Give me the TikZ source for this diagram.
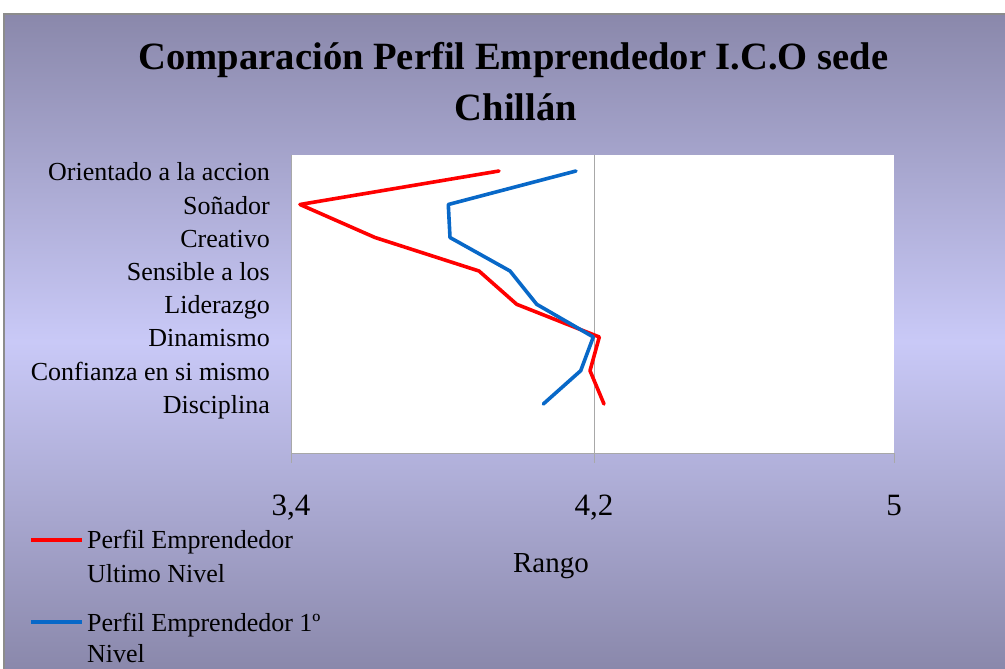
\documentclass[tikz,border=0pt]{standalone}
\usepackage{fontspec}
\setmainfont{Liberation Serif}
\definecolor{bgedge}{HTML}{8A88AB}
\definecolor{bgmid}{HTML}{C9C9F7}
\definecolor{framegray}{HTML}{8C8C8C}
\definecolor{axisgray}{HTML}{A8A8A8}
\definecolor{serieRed}{HTML}{FF0000}
\definecolor{serieBlue}{HTML}{0868C8}
\begin{document}
\begin{tikzpicture}[x=1pt,y=-1pt,
  titlefont/.style={font=\fontsize{38.6}{46}\selectfont\bfseries},
  catlabel/.style={anchor=base east,inner sep=0pt,font=\fontsize{26}{30}\selectfont},
  ticklabel/.style={anchor=base,inner sep=0pt,font=\fontsize{31}{36}\selectfont},
  legtext/.style={anchor=base west,inner sep=0pt,font=\fontsize{26}{30}\selectfont},
  axisline/.style={draw=axisgray,line width=1pt},
  series/.style={line width=3.6pt,line join=round,line cap=round}]
\useasboundingbox (0,0) rectangle (1005,669);
\fill[white] (0,0) rectangle (1005,669);
\shade[top color=bgedge,bottom color=bgedge,middle color=bgmid] (4,14) rectangle (1005,669);
\draw[framegray,line width=1.5pt] (4,669) -- (4,14) -- (1005,14);
% title
\node[titlefont,anchor=base,inner sep=0pt] (t1) at (513.5,70) {Comparación Perfil Emprendedor I.C.O sede};
\node[titlefont,anchor=base,inner sep=0pt] (t2) at (516,121) {Chillán};
% plot area
\fill[white] (291,155) rectangle (894,453);
\draw[axisline] (594,155) -- (594,463);
\draw[axisline] (291,155) -- (291,463);
\draw[axisline] (291,453) -- (894,453);
\draw[axisline] (894,453) -- (894,463);
% series
\draw[series,serieRed] (499,171) -- (300,204.5) -- (375,237.5) -- (479,271) -- (516.7,304.3) -- (599.3,337) -- (590,370.7) -- (604,404);
\draw[series,serieBlue] (576,171) -- (448.3,204.5) -- (450,237.5) -- (510,271) -- (536.7,304.3) -- (593.3,337) -- (580.7,370.7) -- (543.3,404);
% category labels
\node[catlabel] (c1) at (270,180) {Orientado a la accion};
\node[catlabel] (c2) at (270,214) {Soñador};
\node[catlabel] (c3) at (270,247) {Creativo};
\node[catlabel] (c4) at (270,280) {Sensible a los};
\node[catlabel] (c5) at (270,313) {Liderazgo};
\node[catlabel] (c6) at (270,346.5) {Dinamismo};
\node[catlabel] (c7) at (270,380) {Confianza en si mismo};
\node[catlabel] (c8) at (270,413) {Disciplina};
% tick labels
\node[ticklabel] (x1) at (291,515) {3,4};
\node[ticklabel] (x2) at (594,515) {4,2};
\node[ticklabel] (x3) at (894,515) {5};
\node[anchor=base,inner sep=0pt,font=\fontsize{29}{34}\selectfont] (xt) at (551,572) {Rango};
% legend
\coordinate (l1a) at (31,540); \coordinate (l1b) at (82,540);
\draw[serieRed,line width=3.6pt] (l1a) -- (l1b);
\node[legtext] (lt1) at (87,548) {Perfil Emprendedor};
\node[legtext] (lt2) at (87,582) {Ultimo Nivel};
\coordinate (l2a) at (31,622); \coordinate (l2b) at (82,622);
\draw[serieBlue,line width=3.6pt] (l2a) -- (l2b);
\node[legtext] (lt3) at (87,631) {Perfil Emprendedor 1º};
\node[legtext] (lt4) at (87,662) {Nivel};
\end{tikzpicture}
\end{document}
